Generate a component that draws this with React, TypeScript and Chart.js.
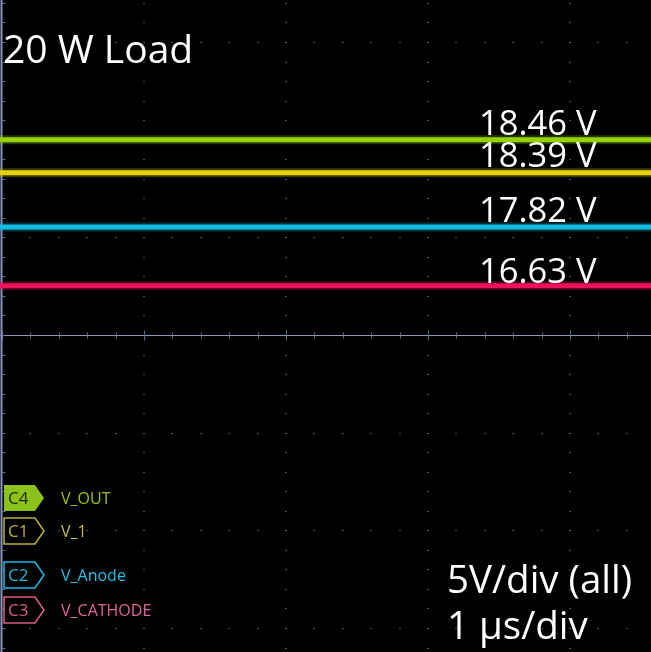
import React, { useEffect, useRef } from 'react';
import { Chart, registerables } from 'chart.js';

Chart.register(...registerables);

// ---- data ----
const channelIds = ['C4', 'C1', 'C2', 'C3'];
const signalNames = ['V_OUT', 'V_1', 'V_Anode', 'V_CATHODE'];
const readoutVolts = [18.46, 18.39, 17.82, 16.63];
// vertical trace position on screen, in divisions above the centre line
const tracePositionDiv = [2.0, 1.66, 1.105, 0.505];
// record start / end (µs) – the record spans the whole visible window
const sampleTimesUs = [-0.05, 4.7];
const voltsPerDiv = 5;
const usPerDiv = 1;

const traceColors = ['#98d606', '#e6d20a', '#16bfe6', '#ee1460'];
const glowColors = ['rgba(140,205,0,0.28)', 'rgba(225,205,0,0.28)', 'rgba(10,180,225,0.28)', 'rgba(230,10,85,0.28)'];
const badgeColors = ['#8cc21c', '#bdb232', '#1cb9e2', '#dc5e8c'];
const labelColors = ['#9cc420', '#c6be4c', '#22c0ea', '#e2649a'];

const W = 651;
const H = 652;
const FONT = "'Open Sans', 'Noto Sans', sans-serif";

const graticule = {
  id: 'graticule',
  beforeDraw(chart: any) {
    const { ctx } = chart;
    ctx.save();
    ctx.fillStyle = '#000';
    ctx.fillRect(0, 0, chart.width, chart.height);
    ctx.restore();
  },
  beforeDatasetsDraw(chart: any) {
    const { ctx } = chart;
    const xs = chart.scales.x;
    const ys = chart.scales.y;
    ctx.save();
    // dotted minor marks along the major lines
    ctx.fillStyle = 'rgba(95,95,125,0.8)';
    for (let d = -3; d <= 3; d++) {
      if (d === 0) continue;
      const py = Math.round(ys.getPixelForValue(d));
      for (let k = 0; k <= 24; k++) {
        const px = Math.round(xs.getPixelForValue(k * 0.2));
        ctx.fillRect(px - 1, py, 2, 1);
      }
    }
    for (let d = 1; d <= 4; d++) {
      const px = Math.round(xs.getPixelForValue(d));
      for (let k = -18; k <= 18; k++) {
        const py = Math.round(ys.getPixelForValue(k * 0.2));
        ctx.fillRect(px - 1, py, 2, 1);
      }
    }
    // centre horizontal line with ticks
    const cy = Math.round(ys.getPixelForValue(0)) + 0.5;
    ctx.strokeStyle = 'rgba(150,160,195,0.95)';
    ctx.lineWidth = 1;
    ctx.beginPath();
    ctx.moveTo(0, cy);
    ctx.lineTo(chart.width, cy);
    ctx.stroke();
    ctx.strokeStyle = 'rgba(110,120,155,0.85)';
    for (let k = 0; k <= 24; k++) {
      const px = Math.round(xs.getPixelForValue(k * 0.2)) + 0.5;
      const major = k % 5 === 0;
      const h = major ? 5 : 3;
      ctx.beginPath();
      ctx.moveTo(px, cy - h);
      ctx.lineTo(px, cy + h);
      ctx.stroke();
    }
    // left border with ticks
    const lx = Math.round(xs.getPixelForValue(0)) - 0.5;
    ctx.strokeStyle = 'rgba(140,155,200,0.95)';
    ctx.lineWidth = 2;
    ctx.beginPath();
    ctx.moveTo(lx, 0);
    ctx.lineTo(lx, chart.height);
    ctx.stroke();
    ctx.lineWidth = 1;
    ctx.strokeStyle = 'rgba(110,120,155,0.85)';
    for (let k = -18; k <= 18; k++) {
      const py = Math.round(ys.getPixelForValue(k * 0.2)) + 0.5;
      ctx.beginPath();
      ctx.moveTo(lx, py);
      ctx.lineTo(lx + 4, py);
      ctx.stroke();
    }
    ctx.restore();
  },
};

export default function App() {
  const canvasRef = useRef<HTMLCanvasElement | null>(null);

  useEffect(() => {
    document.body.style.margin = '0';
    document.body.style.background = '#000';
    const canvas = canvasRef.current;
    if (!canvas) return;
    const datasets: any[] = [];
    channelIds.forEach((_, i) => {
      const pts = sampleTimesUs.map((t) => ({ x: t / usPerDiv, y: tracePositionDiv[i] }));
      datasets.push({
        label: signalNames[i] + ' glow',
        data: pts,
        borderColor: glowColors[i],
        borderWidth: 9,
        pointRadius: 0,
        fill: false,
      });
      datasets.push({
        label: signalNames[i],
        data: pts,
        borderColor: traceColors[i],
        borderWidth: 5,
        pointRadius: 0,
        fill: false,
      });
    });
    const chart = new Chart(canvas, {
      type: 'line',
      data: { datasets },
      options: {
        animation: false,
        responsive: false,
        devicePixelRatio: 1,
        layout: { padding: 0 },
        plugins: { legend: { display: false }, tooltip: { enabled: false }, title: { display: false } },
        scales: {
          x: { type: 'linear', min: -2 / 142, max: 649 / 142, display: false },
          y: { type: 'linear', min: -317 / 97.67, max: 335 / 97.67, display: false },
        },
      },
      plugins: [graticule],
    });
    return () => chart.destroy();
  }, []);

  const readoutBaselines = [135, 167, 222, 283];
  const badgeTops = [485, 518, 562, 597];

  return (
    <div style={{ position: 'fixed', left: 0, top: 0, width: W, height: H, background: '#000', overflow: 'hidden' }}>
      <canvas ref={canvasRef} width={W} height={H} style={{ position: 'absolute', left: 0, top: 0, width: W, height: H }} />
      <svg width={W} height={H} style={{ position: 'absolute', left: 0, top: 0, pointerEvents: 'none' }}>
        <text x={3} y={63} fill="#fff" fontFamily={FONT} fontSize={39}>20 W Load</text>
        {readoutVolts.map((v, i) => (
          <text key={'r' + i} x={479} y={readoutBaselines[i]} fill="#fff" fontFamily={FONT} fontSize={34.5}>
            {v.toFixed(2) + ' V'}
          </text>
        ))}
        <text x={447} y={593} fill="#fff" fontFamily={FONT} fontSize={38.5}>{voltsPerDiv + 'V/div (all)'}</text>
        <text x={447} y={639} fill="#fff" fontFamily={FONT} fontSize={38.5}>{usPerDiv + ' µs/div'}</text>
        {channelIds.map((c, i) => {
          const t = badgeTops[i];
          const h = 26;
          const pts = `4,${t} 35,${t} 44,${t + h / 2} 35,${t + h} 4,${t + h}`;
          const filled = i === 0;
          return (
            <g key={c}>
              <polygon
                points={pts}
                fill={filled ? badgeColors[i] : '#000'}
                stroke={badgeColors[i]}
                strokeWidth={filled ? 0 : 1.5}
              />
              <text x={8} y={t + h / 2 + 6} fill={filled ? '#1d2a05' : badgeColors[i]} fontFamily={FONT} fontSize={17}>
                {c}
              </text>
              <text x={61} y={t + h / 2 + 6} fill={labelColors[i]} fontFamily={FONT} fontSize={16}>
                {signalNames[i]}
              </text>
            </g>
          );
        })}
      </svg>
    </div>
  );
}
